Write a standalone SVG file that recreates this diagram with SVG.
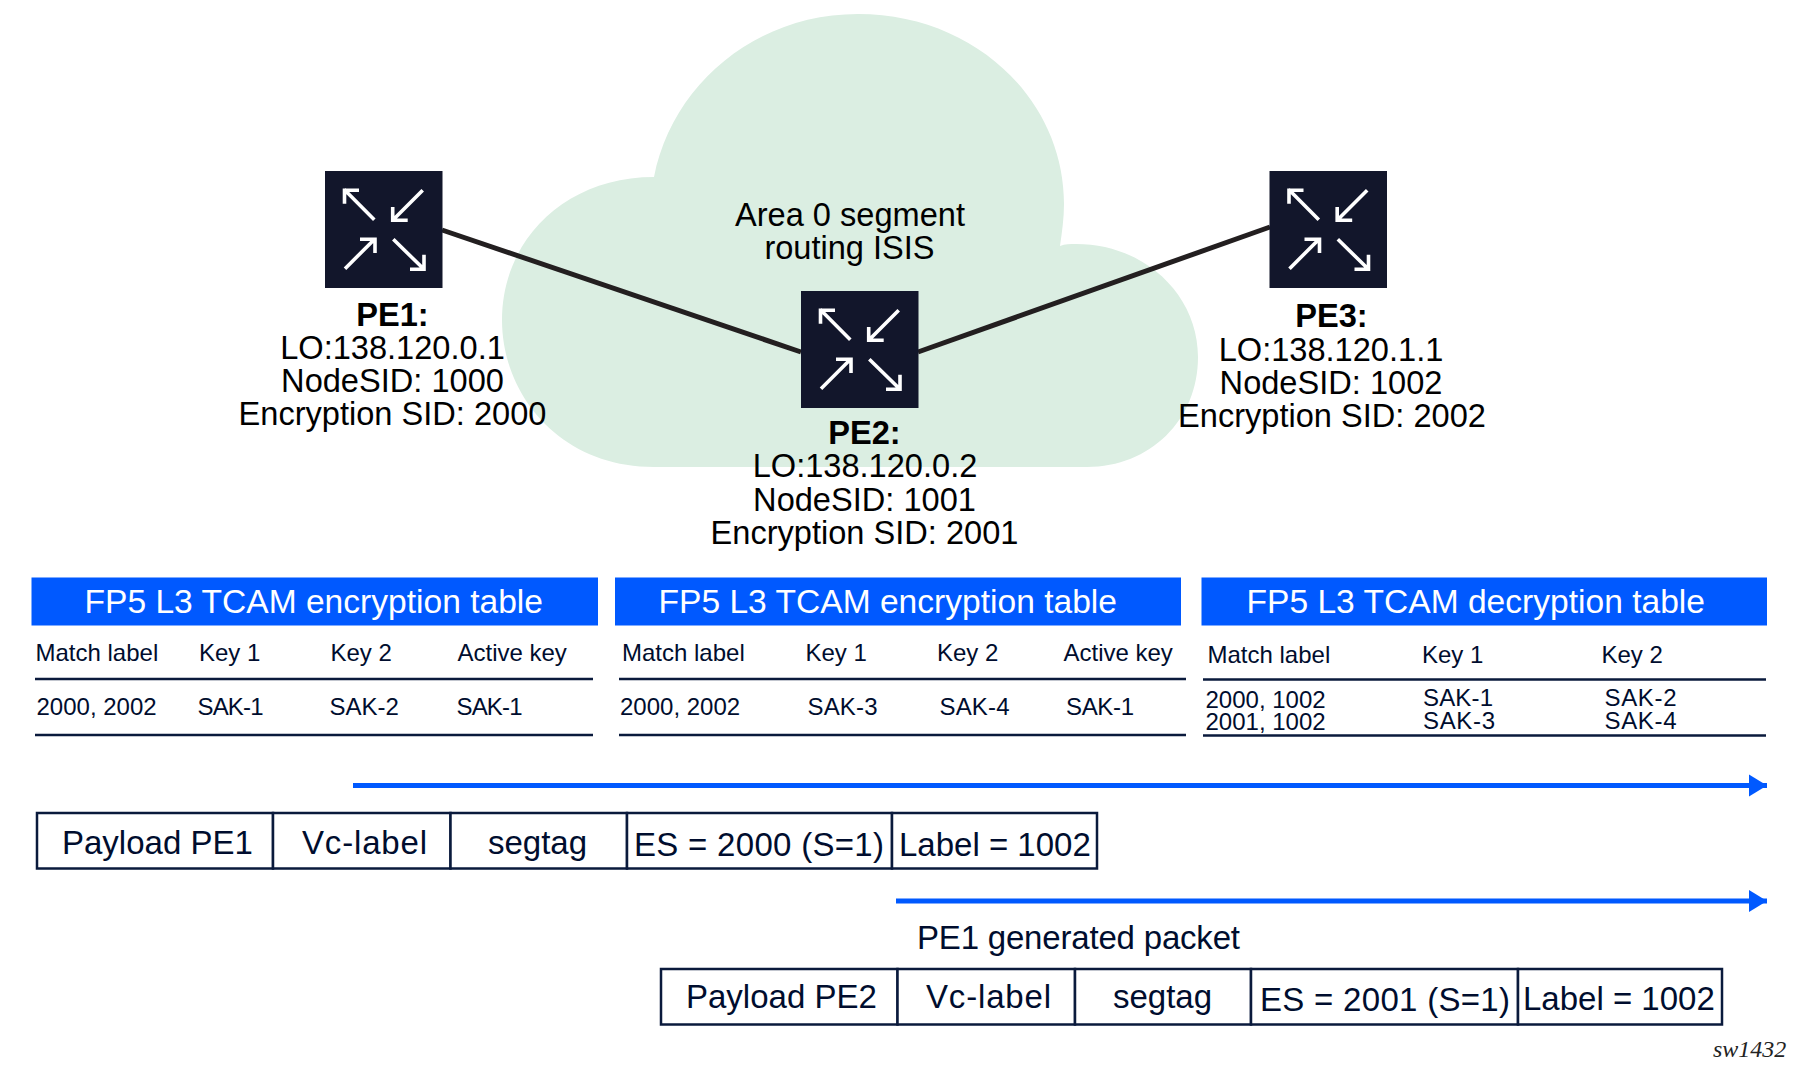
<svg xmlns="http://www.w3.org/2000/svg" width="1799" height="1072" viewBox="0 0 1799 1072">
<style>
text{font-family:"Liberation Sans",Arial,sans-serif;fill:#000d2e}
.n{font-size:32.6px;fill:#000;text-anchor:middle}
.b{font-weight:bold}
.h{font-size:33.6px;fill:#fff}
.c{font-size:24px}
.p{font-size:33px}
.hd{fill:#0059ff}
.r{stroke:#0a1a3c;stroke-width:2.5;fill:none}
.box{fill:#fff;stroke:#0a1a3c;stroke-width:2.5}
.link{stroke:#231f20;stroke-width:5;fill:none}
.flow{stroke:#0059ff;stroke-width:5;fill:none;marker-end:url(#ah)}
.ic{fill:none;stroke:#fff;stroke-width:3.6}
</style>
<defs>
<marker id="ah" markerUnits="userSpaceOnUse" markerWidth="20" markerHeight="24" refX="18" refY="12" orient="auto"><path d="M0,1L18,12L0,23Z" fill="#0059ff"/></marker>
<g id="router">
<rect width="117.500" height="117" fill="#12162b"/>
<path class="ic" d="M49.300,48.700L19,18.300M34,19.300H19.500V32.700"/>
<path class="ic" d="M97.700,19.300L67.700,49.300M82.700,49.300H67.700V36"/>
<path class="ic" d="M20,97.700L50,67.700M35,68.300H50V82"/>
<path class="ic" d="M68.300,68.300L99,98.300M85,98.300H99V83.700"/>
</g>
</defs>
<g id="cloud">
<path d="M654,467C560,467 502,395 502,320C502,240 565,177 654,177C672,85 755,14 858,14C975,14 1064,100 1064,204C1064,218 1062,232 1060,246C1065,244 1070,244 1076,244C1145,244 1198,295 1198,357C1198,420 1150,467 1087,467Z" fill="#dbeee2"/>
<text class="n" x="850" y="226">Area 0 segment</text>
<text class="n" x="849.500" y="259">routing ISIS</text>
</g>
<g id="connectors">
<line class="link" x1="442" y1="230" x2="801" y2="352"/>
<line class="link" x1="918" y1="352" x2="1270" y2="227"/>
<line class="flow" x1="353" y1="785.500" x2="1767" y2="785.500"/>
<line class="flow" x1="896" y1="901" x2="1767" y2="901"/>
</g>
<g id="pe1">
<use href="#router" x="325" y="171"/>
<text class="n b" x="392.500" y="326">PE1:</text>
<text class="n" x="392.500" y="358.500">LO:138.120.0.1</text>
<text class="n" x="392.500" y="392">NodeSID: 1000</text>
<text class="n" x="392.500" y="425">Encryption SID: 2000</text>
</g>
<g id="pe2">
<use href="#router" x="801" y="291"/>
<text class="n b" x="864.500" y="444">PE2:</text>
<text class="n" x="865" y="477">LO:138.120.0.2</text>
<text class="n" x="864.500" y="510.500">NodeSID: 1001</text>
<text class="n" x="864.500" y="543.500">Encryption SID: 2001</text>
</g>
<g id="pe3">
<use href="#router" x="1269.500" y="171"/>
<text class="n b" x="1331.500" y="327">PE3:</text>
<text class="n" x="1331" y="361">LO:138.120.1.1</text>
<text class="n" x="1331" y="394">NodeSID: 1002</text>
<text class="n" x="1332" y="426.500">Encryption SID: 2002</text>
</g>
<g id="table1">
<rect class="hd" x="31.500" y="577.500" width="566.500" height="48"/>
<text class="h" x="84.500" y="612.500">FP5 L3 TCAM encryption table</text>
<text class="c" x="35.500" y="660.500">Match label</text><text class="c" x="199" y="660.500">Key 1</text><text class="c" x="330.500" y="660.500">Key 2</text><text class="c" x="457.500" y="660.500">Active key</text>
<path class="r" d="M35,679H593M35,735H593"/>
<text class="c" x="36.500" y="715">2000, 2002</text><text class="c" x="197.500" y="715" textLength="66">SAK-1</text><text class="c" x="329.500" y="715">SAK-2</text><text class="c" x="456.500" y="715" textLength="66">SAK-1</text>
</g>
<g id="table2">
<rect class="hd" x="615" y="577.500" width="566" height="48"/>
<text class="h" x="658.500" y="612.500">FP5 L3 TCAM encryption table</text>
<text class="c" x="622" y="660.500">Match label</text><text class="c" x="805.500" y="660.500">Key 1</text><text class="c" x="937" y="660.500">Key 2</text><text class="c" x="1063.500" y="660.500">Active key</text>
<path class="r" d="M619,679H1186M619,735H1186"/>
<text class="c" x="620" y="715">2000, 2002</text><text class="c" x="807.500" y="715" textLength="70">SAK-3</text><text class="c" x="939.500" y="715" textLength="70">SAK-4</text><text class="c" x="1066" y="715" textLength="68">SAK-1</text>
</g>
<g id="table3">
<rect class="hd" x="1201.500" y="577.500" width="565.500" height="48"/>
<text class="h" x="1246.500" y="612.500">FP5 L3 TCAM decryption table</text>
<text class="c" x="1207.500" y="662.500">Match label</text><text class="c" x="1422" y="662.500">Key 1</text><text class="c" x="1601.500" y="662.500">Key 2</text>
<path class="r" d="M1203,679.500H1766M1203,735.500H1766"/>
<text class="c" x="1205.500" y="708">2000, 1002</text><text class="c" x="1423" y="706" textLength="70">SAK-1</text><text class="c" x="1604.500" y="706" textLength="72">SAK-2</text>
<text class="c" x="1205.500" y="729.500">2001, 1002</text><text class="c" x="1423" y="728.500" textLength="72">SAK-3</text><text class="c" x="1604.500" y="728.500" textLength="72">SAK-4</text>
</g>
<g id="packet1">
<rect class="box" x="37" y="813" width="236" height="55.500"/><rect class="box" x="273" y="813" width="177.500" height="55.500"/><rect class="box" x="450.500" y="813" width="176.500" height="55.500"/><rect class="box" x="627" y="813" width="265" height="55.500"/><rect class="box" x="892" y="813" width="205" height="55.500"/>
<text class="p" x="62" y="854">Payload PE1</text><text class="p" x="302" y="854" textLength="125">Vc-label</text><text class="p" x="488" y="854">segtag</text><text class="p" x="634" y="856" textLength="250">ES = 2000 (S=1)</text><text class="p" x="899" y="856">Label = 1002</text>
</g>
<text class="p" x="917" y="949" textLength="323">PE1 generated packet</text>
<g id="packet2">
<rect class="box" x="661" y="969" width="236.500" height="55.500"/><rect class="box" x="897.500" y="969" width="177.500" height="55.500"/><rect class="box" x="1075" y="969" width="176" height="55.500"/><rect class="box" x="1251" y="969" width="267" height="55.500"/><rect class="box" x="1518" y="969" width="204" height="55.500"/>
<text class="p" x="686" y="1008">Payload PE2</text><text class="p" x="926" y="1008" textLength="125">Vc-label</text><text class="p" x="1113" y="1008">segtag</text><text class="p" x="1260" y="1011" textLength="250">ES = 2001 (S=1)</text><text class="p" x="1523" y="1010">Label = 1002</text>
</g>
<text x="1713" y="1057" font-size="24" style="font-family:'Liberation Serif',serif;font-style:italic;fill:#222">sw1432</text>
</svg>
